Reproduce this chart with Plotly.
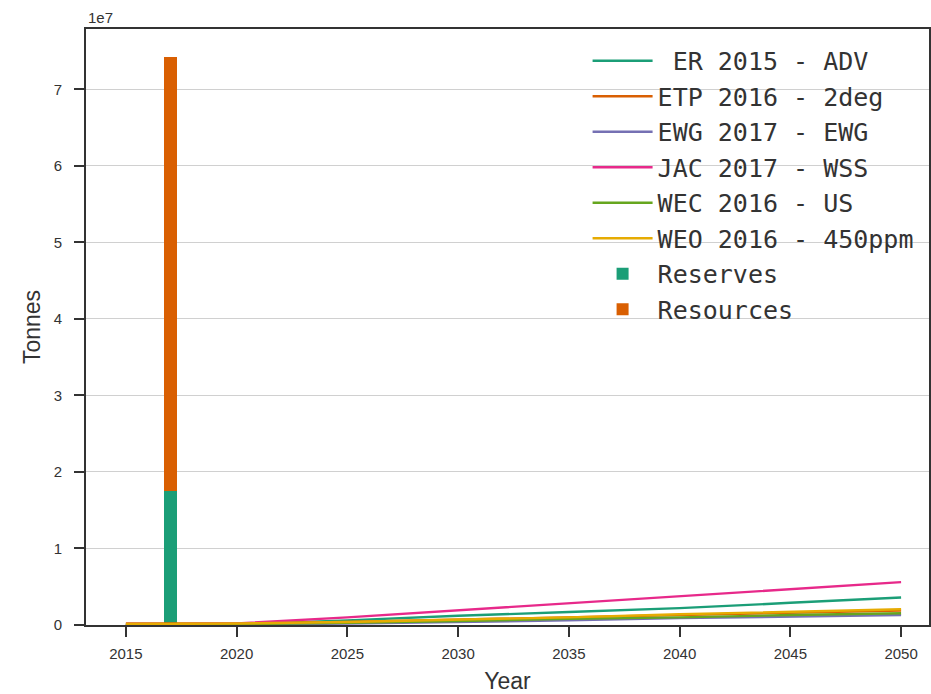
import plotly.graph_objects as go

# Scenario demand series (tonnes), sampled every 5 years
years = [2015, 2020, 2025, 2030, 2035, 2040, 2045, 2050]
scenario_names = ["\u00a0ER 2015 - ADV", "ETP 2016 - 2deg", "EWG 2017 - EWG",
                  "JAC 2017 - WSS", "WEC 2016 - US", "WEO 2016 - 450ppm"]
er_2015_adv = [0.00e7, 0.01e7, 0.06e7, 0.12e7, 0.17e7, 0.22e7, 0.29e7, 0.36e7]
etp_2016_2deg = [0.02e7, 0.02e7, 0.04e7, 0.07e7, 0.10e7, 0.13e7, 0.16e7, 0.19e7]
ewg_2017_ewg = [0.00e7, 0.00e7, 0.02e7, 0.04e7, 0.06e7, 0.09e7, 0.11e7, 0.13e7]
jac_2017_wss = [0.00e7, 0.02e7, 0.10e7, 0.19e7, 0.28e7, 0.37e7, 0.465e7, 0.56e7]
wec_2016_us = [0.00e7, 0.01e7, 0.03e7, 0.05e7, 0.08e7, 0.10e7, 0.13e7, 0.153e7]
weo_2016_450 = [0.01e7, 0.02e7, 0.04e7, 0.07e7, 0.10e7, 0.14e7, 0.17e7, 0.205e7]
scenario_values = [er_2015_adv, etp_2016_2deg, ewg_2017_ewg,
                   jac_2017_wss, wec_2016_us, weo_2016_450]
scenario_colors = ["#1b9e77", "#d95f02", "#7570b3", "#e7298a", "#66a61e", "#e6ab02"]

# Known stock (tonnes) reported in 2017
stock_year = [2017]
reserves = [1.75e7]
resources = [5.67e7]

y_ticks = [0, 1e7, 2e7, 3e7, 4e7, 5e7, 6e7, 7e7]
y_tick_text = ["0", "1", "2", "3", "4", "5", "6", "7"]
x_ticks = [2015, 2020, 2025, 2030, 2035, 2040, 2045, 2050]

fig = go.Figure()

for name, vals, col in zip(scenario_names, scenario_values, scenario_colors):
    fig.add_trace(go.Scatter(x=years, y=vals, mode="lines", name=name,
                             line=dict(color=col, width=2.4)))

fig.add_trace(go.Bar(x=stock_year, y=reserves, name="Reserves", width=0.6,
                     marker=dict(color="#1b9e77", line=dict(width=0))))
fig.add_trace(go.Bar(x=stock_year, y=resources, name="Resources", width=0.6,
                     marker=dict(color="#d95f02", line=dict(width=0))))

sans = "Liberation Sans, Arial, sans-serif"
axis_font = dict(family=sans, size=15, color="#333333")
title_font = dict(family=sans, size=23, color="#333333")

fig.update_layout(
    width=931, height=694,
    margin=dict(l=86, r=0, t=29, b=69),
    paper_bgcolor="white", plot_bgcolor="white",
    barmode="stack", bargap=0,
    showlegend=True,
    legend=dict(x=0.595, y=0.985, xanchor="left", yanchor="top",
                bgcolor="rgba(0,0,0,0)", traceorder="normal",
                font=dict(family="DejaVu Sans Mono, monospace", size=25, color="#333333"),
                itemwidth=60),
    xaxis=dict(range=[2013.2, 2051.26], tickmode="array", tickvals=x_ticks,
               ticks="outside", ticklen=10, tickwidth=1.5, tickcolor="#333333",
               ticklabelstandoff=4,
               showgrid=False, zeroline=False,
               showline=True, linecolor="#333333", linewidth=2, mirror=True,
               tickfont=axis_font,
               title=dict(text="Year", font=title_font, standoff=13)),
    yaxis=dict(range=[0, 7.79e7], tickmode="array", tickvals=y_ticks, ticktext=y_tick_text,
               ticks="outside", ticklen=10, tickwidth=1.5, tickcolor="#333333",
               ticklabelstandoff=9,
               showgrid=True, gridcolor="#d0d0d0", gridwidth=1, zeroline=False,
               showline=True, linecolor="#333333", linewidth=2, mirror=True,
               tickfont=axis_font,
               title=dict(text="Tonnes", font=title_font, standoff=7)),
    annotations=[dict(text="1e7", xref="paper", yref="paper", x=0.0, y=1.0,
                      xanchor="left", yanchor="bottom", showarrow=False, yshift=1,
                      font=axis_font)],
)

fig.write_html("out.html")
